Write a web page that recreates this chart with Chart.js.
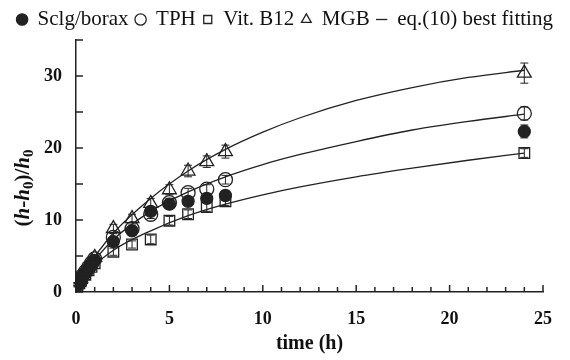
<!DOCTYPE html>
<html>
<head>
<meta charset="utf-8">
<script src="https://cdn.jsdelivr.net/npm/chart.js@4"></script>
<style>
  body { margin: 0; background: #fff; }
  #wrap { width: 570px; height: 360px; }
</style>
</head>
<body>
<div id="wrap"><canvas id="myChart" width="570" height="360"></canvas></div>
<script>
// measured points
var times = [0.08, 0.17, 0.25, 0.33, 0.5, 0.67, 0.83, 1, 2, 3, 4, 5, 6, 7, 8, 24];
var sclg  = [1.0, 1.3, 1.7, 2.1, 2.7, 3.3, 3.9, 4.4, 7.0, 8.5, 11.2, 12.2, 12.6, 13.0, 13.4, 22.3];
var tph   = [1.1, 1.4, 1.8, 2.2, 2.8, 3.4, 4.0, 4.6, 7.6, 8.8, 10.8, 12.4, 13.8, 14.3, 15.6, 24.8];
var vitb  = [0.9, 1.2, 1.5, 1.9, 2.4, 3.0, 3.5, 4.0, 5.6, 6.6, 7.3, 9.9, 10.8, 11.8, 12.6, 19.3];
var mgb   = [1.1, 1.5, 1.9, 2.3, 2.9, 3.6, 4.2, 4.8, 8.8, 10.2, 12.3, 14.2, 16.8, 18.1, 19.5, 30.4];

// error bars (+/-)
var sclgErr = [0.2, 0.2, 0.2, 0.3, 0.3, 0.3, 0.3, 0.3, 0.5, 0.5, 0.6, 0.6, 0.6, 0.6, 0.7, 0.9];
var tphErr  = [0.2, 0.2, 0.2, 0.3, 0.3, 0.3, 0.3, 0.3, 0.5, 0.5, 0.6, 0.6, 0.6, 0.6, 0.6, 0.9];
var vitbErr = [0.2, 0.2, 0.2, 0.3, 0.3, 0.3, 0.3, 0.3, 0.5, 0.5, 0.6, 0.6, 0.6, 0.6, 0.6, 0.6];
var mgbErr  = [0.2, 0.2, 0.2, 0.3, 0.3, 0.3, 0.3, 0.3, 0.6, 0.6, 0.7, 0.7, 0.8, 0.8, 0.9, 1.4];

// eq.(10) fitted curves
var fitTimes = [0, 0.5, 1, 2, 4, 6, 8, 10, 12, 15, 18, 21, 24];
var mgbFit   = [0.6, 3.0, 4.9, 8.2, 13.0, 16.8, 19.8, 22.2, 24.2, 26.6, 28.4, 29.8, 30.8];
var tphFit   = [0.6, 2.6, 4.4, 7.3, 11.2, 13.9, 16.0, 17.7, 19.1, 20.9, 22.5, 23.7, 24.7];
var vitbFit  = [0.6, 2.2, 3.7, 5.8, 8.5, 10.6, 12.2, 13.5, 14.6, 16.0, 17.2, 18.3, 19.3];

function pts(xs, ys) { return xs.map(function (x, i) { return { x: x, y: ys[i] }; }); }

var serif = "'Liberation Serif', 'DejaVu Serif', serif";

function pointSet(label, ys, errs, style, fill, radius) {
  return {
    label: label,
    data: pts(times, ys),
    errors: errs,
    showLine: false,
    pointStyle: style,
    pointRadius: radius,
    pointBackgroundColor: fill,
    backgroundColor: fill,
    pointBorderColor: '#222',
    borderColor: '#222',
    pointBorderWidth: 1.3,
    borderWidth: 1.3
  };
}

function fitSet(label, ys) {
  return {
    label: label,
    data: pts(fitTimes, ys),
    fit: true,
    showLine: true,
    pointRadius: 0,
    pointStyle: 'line',
    borderColor: '#222',
    backgroundColor: '#222',
    borderWidth: 1.3,
    cubicInterpolationMode: 'monotone'
  };
}

// error bars, inward axis ticks and the y axis title with subscripts
var extras = {
  id: 'extras',
  afterDatasetsDraw: function (chart) {
    var ctx = chart.ctx, xs = chart.scales.x, ys = chart.scales.y;
    ctx.save();
    ctx.strokeStyle = '#222';
    ctx.lineWidth = 1;
    chart.data.datasets.forEach(function (ds) {
      if (!ds.errors) return;
      ds.data.forEach(function (p, i) {
        var px = xs.getPixelForValue(p.x);
        var top = ys.getPixelForValue(p.y + ds.errors[i]);
        var bot = ys.getPixelForValue(p.y - ds.errors[i]);
        ctx.beginPath();
        ctx.moveTo(px, top); ctx.lineTo(px, bot);
        ctx.moveTo(px - 4, top); ctx.lineTo(px + 4, top);
        ctx.moveTo(px - 4, bot); ctx.lineTo(px + 4, bot);
        ctx.stroke();
      });
    });
    ctx.lineWidth = 1.5;
    var base = ys.getPixelForValue(0), left = xs.getPixelForValue(0);
    for (var t = 0; t <= 25; t++) {
      var x = xs.getPixelForValue(t);
      ctx.beginPath();
      ctx.moveTo(x, base); ctx.lineTo(x, base - (t % 5 === 0 ? 7 : 5));
      ctx.stroke();
    }
    for (var v = 0; v <= 35; v += 5) {
      var y = ys.getPixelForValue(v);
      ctx.beginPath();
      ctx.moveTo(left, y); ctx.lineTo(left + 7, y);
      ctx.stroke();
    }
    ctx.restore();

    // y title: (h-h0)/h0
    var parts = [['(', 'bold'], ['h', 'italic bold'], ['-', 'bold'], ['h', 'italic bold'],
                 ['0', 'bold', 1], [')/', 'bold'], ['h', 'italic bold'], ['0', 'bold', 1]];
    ctx.save();
    ctx.fillStyle = '#111';
    ctx.textBaseline = 'middle';
    var total = 0;
    parts.forEach(function (p) {
      ctx.font = p[1] + ' ' + (p[2] ? 15 : 21) + 'px ' + serif;
      p.w = ctx.measureText(p[0]).width;
      total += p.w;
    });
    ctx.translate(24, 188);
    ctx.rotate(-Math.PI / 2);
    var cx = -total / 2;
    parts.forEach(function (p) {
      ctx.font = p[1] + ' ' + (p[2] ? 15 : 21) + 'px ' + serif;
      ctx.fillText(p[0], cx, p[2] ? 5 : 0);
      cx += p.w;
    });
    ctx.restore();
  }
};

var ctx = document.getElementById('myChart');
var myChart = new Chart(ctx, {
  type: 'line',
  data: {
    datasets: [
      pointSet('Sclg/borax', sclg, sclgErr, 'circle', '#222', 6),
      pointSet('TPH', tph, tphErr, 'circle', 'rgba(255,255,255,0)', 7),
      pointSet('Vit. B12', vitb, vitbErr, 'rect', 'rgba(255,255,255,0)', 7.5),
      pointSet('MGB', mgb, mgbErr, 'triangle', 'rgba(255,255,255,0)', 8),
      fitSet('eq.(10) best fitting', mgbFit),
      fitSet('fit TPH', tphFit),
      fitSet('fit Vit. B12', vitbFit)
    ]
  },
  options: {
    responsive: false,
    animation: false,
    devicePixelRatio: 1,
    layout: { padding: { left: 0, right: 0, top: 2, bottom: 0 } },
    plugins: {
      tooltip: { enabled: false },
      legend: {
        position: 'top',
        labels: {
          usePointStyle: true,
          boxHeight: 8,
          boxWidth: 10,
          padding: 7,
          color: '#111',
          font: { family: serif, size: 21 },
          filter: function (item) { return item.datasetIndex <= 4; }
        }
      }
    },
    scales: {
      x: {
        type: 'linear',
        min: 0, max: 25,
        grid: { display: false, drawTicks: false },
        border: { display: true, color: '#222', width: 1.5 },
        afterFit: function (scale) { scale.height = 68; },
        ticks: {
          stepSize: 1,
          autoSkip: false,
          maxRotation: 0,
          padding: 17,
          color: '#111',
          font: { family: serif, size: 18, weight: 'bold' },
          callback: function (v) { return v % 5 === 0 ? v : ''; }
        },
        title: {
          display: true, text: 'time (h)', color: '#111',
          font: { family: serif, size: 20, weight: 'bold' },
          padding: { top: 10 }
        }
      },
      y: {
        min: 0, max: 35,
        grid: { display: false, drawTicks: false },
        border: { display: true, color: '#222', width: 1.5 },
        afterFit: function (scale) { scale.width = 76; },
        ticks: {
          stepSize: 5,
          autoSkip: false,
          padding: 14,
          color: '#111',
          font: { family: serif, size: 18, weight: 'bold' },
          callback: function (v) { return v % 10 === 0 ? v : ''; }
        }
      },
      // empty right-hand gutter
      yPad: {
        position: 'right',
        grid: { display: false, drawTicks: false },
        border: { display: false },
        ticks: { display: false },
        afterFit: function (scale) { scale.width = 27; }
      }
    }
  },
  plugins: [extras]
});
</script>
</body>
</html>
